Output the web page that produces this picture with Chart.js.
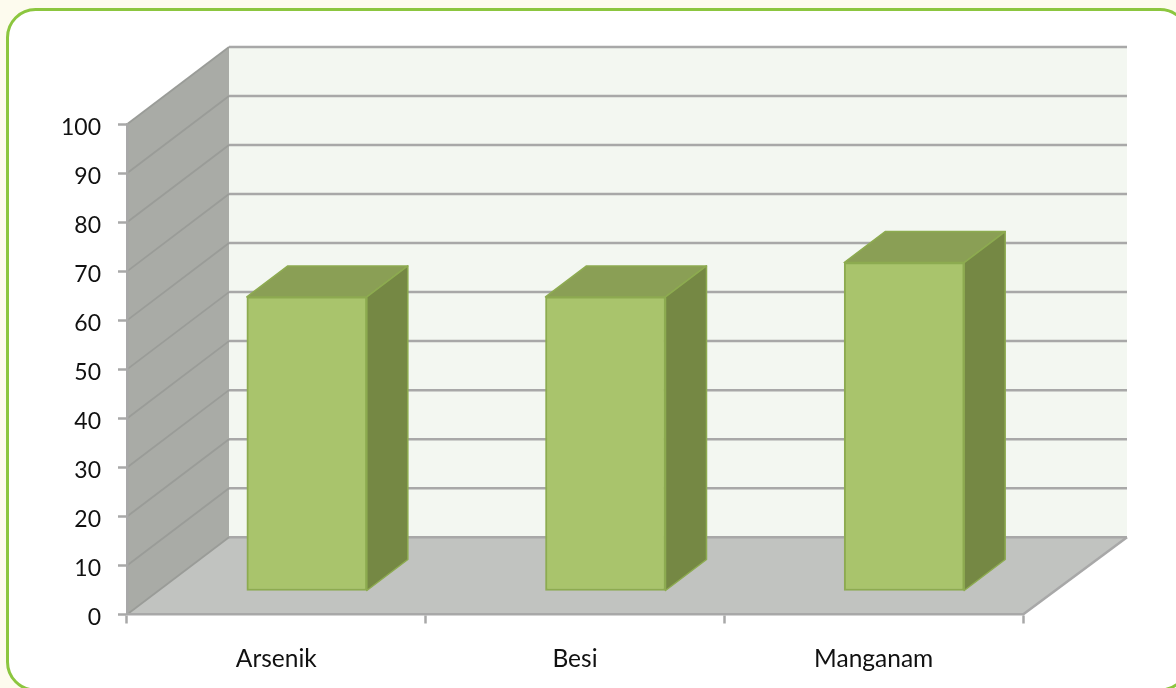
<!DOCTYPE html>
<html>
<head>
<meta charset="utf-8">
<style>
html,body{margin:0;padding:0;background:#fdfbee;overflow:hidden}
canvas{display:block}
</style>
<script src="https://cdn.jsdelivr.net/npm/chart.js@4"></script>
</head>
<body>
<div style="width:1176px;height:688px;position:relative"><canvas id="c" width="1176" height="688"></canvas></div>
<script>
const categories = ['Arsenik', 'Besi', 'Manganam'];
const values = [60, 60, 67];
const yMin = 0, yMax = 100, yStep = 10;

const COL = {
  page:'#fdfbee', panel:'#ffffff', frame:'#8cc63f',
  back:'#f3f7f1', side:'#a9aba6', floor:'#c1c3c0',
  grid:'#a8a8a8', sideGrid:'#9a9c98',
  front:'#a9c46c', edge:'#8dab50', top:'#8a9f55', right:'#758844'
};
const WALL = {dxL:102, dxR:104, dy:-77.3};
const BAR = {dx:30.5, dy:-23.5, depthX:41, depthY:-31};

function poly(ctx, pts, fill, stroke, lw){
  ctx.beginPath();
  pts.forEach((p,i)=> i ? ctx.lineTo(p[0],p[1]) : ctx.moveTo(p[0],p[1]));
  ctx.closePath();
  if(fill){ctx.fillStyle=fill;ctx.fill();}
  if(stroke){ctx.strokeStyle=stroke;ctx.lineWidth=lw||1;ctx.stroke();}
}
function line(ctx,x1,y1,x2,y2,c,w){
  ctx.beginPath();ctx.moveTo(x1,y1);ctx.lineTo(x2,y2);
  ctx.strokeStyle=c;ctx.lineWidth=w;ctx.stroke();
}

let labelsShifted = false;
const scene = {
  id:'scene',
  beforeDraw(chart){
    const {ctx, chartArea:a, scales:{y}} = chart;
    if(!labelsShifted){
      y.getLabelItems(a).forEach(i=>{ i.options.translation[1]+=3.5; });
      labelsShifted = true;
    }
    ctx.save();
    // frame
    ctx.fillStyle=COL.page; ctx.fillRect(0,0,chart.width,chart.height);
    ctx.beginPath(); ctx.roundRect(7.5,9.5,1180.5,680.5,28);
    ctx.fillStyle=COL.panel; ctx.fill();
    ctx.strokeStyle=COL.frame; ctx.lineWidth=3; ctx.stroke();
    // walls
    const L=a.left,R=a.right,T=a.top,B=a.bottom;
    const bl=L+WALL.dxL, br=R+WALL.dxR, d=WALL.dy;
    poly(ctx,[[bl,T+d],[br,T+d],[br,B+d],[bl,B+d]],COL.back);
    poly(ctx,[[L,T],[bl,T+d],[bl,B+d],[L,B]],COL.side);
    poly(ctx,[[L,B],[bl,B+d],[br,B+d],[R,B]],COL.floor);
    // grid lines
    y.ticks.forEach(t=>{
      const py=y.getPixelForValue(t.value);
      line(ctx,bl,py+d,br,py+d,COL.grid,2.5);
      line(ctx,L,py,bl,py+d,COL.sideGrid,1.8);
    });
    line(ctx,R,B,br,B+d,COL.grid,2.5);
    ctx.restore();
  },
  beforeDatasetDraw(chart){
    chart.ctx.save();
    chart.ctx.translate(BAR.dx,BAR.dy);
  },
  afterDatasetDraw(chart,args){
    const ctx=chart.ctx;
    ctx.restore();
    ctx.save();
    ctx.lineJoin='round';
    args.meta.data.forEach(b=>{
      const p=b.getProps(['x','y','base','width'],true);
      const x0=p.x-p.width/2+BAR.dx, x1=p.x+p.width/2+BAR.dx;
      const yt=p.y+BAR.dy, yb=p.base+BAR.dy, dx=BAR.depthX, dy=BAR.depthY;
      poly(ctx,[[x0,yt],[x0+dx,yt+dy],[x1+dx,yt+dy],[x1,yt]],COL.top,COL.edge,1.5);
      poly(ctx,[[x1,yt],[x1+dx,yt+dy],[x1+dx,yb+dy],[x1,yb]],COL.right,COL.edge,1.5);
    });
    ctx.restore();
  }
};

new Chart(document.getElementById('c'),{
  type:'bar',
  data:{labels:categories,datasets:[{
    data:values,
    backgroundColor:COL.front,
    borderColor:COL.edge,
    borderWidth:2,
    borderSkipped:false,
    barThickness:120,
    clip:false
  }]},
  plugins:[scene],
  options:{
    responsive:false,
    animation:false,
    layout:{padding:{left:0,right:153,top:124.3,bottom:0}},
    plugins:{legend:{display:false},tooltip:{enabled:false},title:{display:false}},
    scales:{
      x:{
        afterFit(s){s.height=73.5;},
        grid:{drawOnChartArea:false,drawTicks:true,tickLength:9,tickColor:COL.grid,tickWidth:2.5},
        border:{color:COL.grid,width:2.5},
        ticks:{color:'#111111',font:{family:'Lato',size:24.5},padding:21,maxRotation:0}
      },
      y:{
        min:yMin,max:yMax,
        afterFit(s){s.width=127;},
        grid:{drawOnChartArea:false,drawTicks:true,tickLength:9,tickColor:COL.grid,tickWidth:2.5},
        border:{color:COL.grid,width:2.5},
        ticks:{stepSize:yStep,color:'#111111',font:{family:'Lato',size:23},padding:17}
      }
    }
  }
});
</script>
</body>
</html>
